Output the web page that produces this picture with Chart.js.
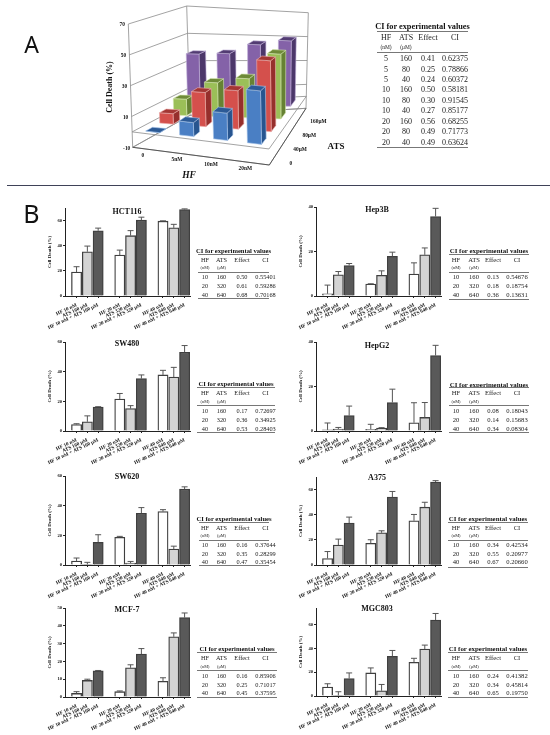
<!DOCTYPE html>
<html>
<head>
<meta charset="utf-8">
<script src="https://cdn.jsdelivr.net/npm/chart.js@4"></script>
<style>
    html, body { margin: 0; background: #fff; }
    #page { position: relative; width: 550px; height: 735px; overflow: hidden; will-change: transform; }
    canvas { position: absolute; }
    .txt { position: absolute; white-space: nowrap; font-family: "Liberation Serif", serif; color: #222; transform: translate(-50%, -50%); }
    .rule { position: absolute; height: 1px; background: #777; }
</style>
</head>
<body>
<div id="page"></div>
<script>
// panel A: cell death by HF (columns) and ATS (rows)
const hfLevels3d = ['0', '5nM', '10nM', '20nM'];
const atsLevels3d = ['0', '40μM', '80μM', '160μM'];
const ats0Values = [0, 9, 17.5, 34];
const ats40Values = [7, 23, 26, 48];
const ats80Values = [11.5, 24, 28, 47];
const ats160Values = [38.5, 39.5, 47, 51];
const zTicks3d = [-10, 10, 30, 50, 70];

const ciA_hf = ['5', '5', '5', '10', '10', '10', '20', '20', '20'];
const ciA_ats = ['160', '80', '40', '160', '80', '40', '160', '80', '40'];
const ciA_effect = ['0.41', '0.25', '0.24', '0.50', '0.30', '0.27', '0.56', '0.49', '0.49'];
const ciA_ci = ['0.62375', '0.78866', '0.60372', '0.58181', '0.91545', '0.85177', '0.68255', '0.71773', '0.63624'];

// panel B: nine bars per cell line
const barLabels = [
    'HF 10 nM', 'ATS 160 μM', 'HF 10 nM + ATS 160 μM',
    'HF 20 nM', 'ATS 320 μM', 'HF 20 nM + ATS 320 μM',
    'HF 40 nM', 'ATS 640 μM', 'HF 40 nM + ATS 640 μM'
];
const ciB_hf = ['10', '20', '40'];
const ciB_ats = ['160', '320', '640'];

const hct116Mean = [19, 35.2, 51.9, 32.5, 48, 60.3, 59.5, 54.2, 68.8];
const hct116Err = [23.3, 39.7, 54, 36.5, 52, 62.7, 59.8, 57, 69.3];
const hct116Effect = ['0.50', '0.61', '0.68'];
const hct116CI = ['0.55401', '0.59286', '0.70168'];

const hep3bMean = [1, 9.5, 13.7, 5.4, 9.3, 17.8, 9.9, 18.5, 35.7];
const hep3bErr = [4.9, 11, 14.6, 5.5, 11.3, 19.7, 14.9, 21.6, 39.4];
const hep3bEffect = ['0.13', '0.18', '0.36'];
const hep3bCI = ['0.54676', '0.18754', '0.13631'];

const sw480Mean = [4.4, 6.2, 16.2, 21.6, 15.1, 35.3, 37.8, 36.4, 53.1];
const sw480Err = [4.9, 10.2, 16.4, 25.3, 17.1, 37.8, 40.9, 42.9, 57.6];
const sw480Effect = ['0.17', '0.36', '0.53'];
const sw480CI = ['0.72697', '0.34925', '0.28403'];

const hepg2Mean = [0.5, 0.9, 6.9, 0.8, 1.3, 12.8, 3.7, 6.1, 33.9];
const hepg2Err = [3.6, 1.6, 11.2, 3, 1.5, 18.8, 12.7, 12.8, 38.5];
const hepg2Effect = ['0.08', '0.14', '0.34'];
const hepg2CI = ['0.18043', '0.15683', '0.08304'];

const sw620Mean = [2.7, 0.4, 15.3, 18.7, 1.3, 34.9, 36, 10.7, 51.1];
const sw620Err = [4.7, 1.8, 20.4, 19.3, 2.4, 38.7, 37.3, 12.7, 52.7];
const sw620Effect = ['0.16', '0.35', '0.47'];
const sw620CI = ['0.37644', '0.28299', '0.35454'];

const a375Mean = [5.2, 15.9, 33.4, 17.2, 25.6, 54, 35.2, 46, 66];
const a375Err = [10.7, 20.6, 38.1, 20.1, 27.2, 58.5, 40.2, 49.9, 67.1];
const a375Effect = ['0.34', '0.55', '0.67'];
const a375CI = ['0.42534', '0.20977', '0.20660'];

const mcf7Mean = [2, 9.3, 14.7, 3, 16.4, 24.1, 8.8, 33.8, 44.6];
const mcf7Err = [3, 10, 14.9, 3.4, 18.1, 27.2, 10.8, 36, 47.2];
const mcf7Effect = ['0.16', '0.25', '0.45'];
const mcf7CI = ['0.85906', '0.71017', '0.37595'];

const mgc803Mean = [7.5, 0.5, 14.7, 19.4, 4.4, 33.3, 28.3, 39.4, 63.9];
const mgc803Err = [10.3, 3.6, 19.4, 23.6, 9.7, 38.3, 31.7, 42.8, 69.4];
const mgc803Effect = ['0.24', '0.34', '0.65'];
const mgc803CI = ['0.41382', '0.45814', '0.19750'];

const page = document.getElementById('page');
const barSlots = [0, 1, 2, 4, 5, 6, 8, 9, 10];
const barFills = ['#ffffff', '#d4d4d4', '#595959'];

Chart.defaults.font.family = '"Liberation Serif", serif';
Chart.defaults.animation = false;

function addText(text, x, y, css) {
    const el = document.createElement('div');
    el.className = 'txt';
    el.textContent = text;
    el.style.left = x + 'px';
    el.style.top = y + 'px';
    Object.assign(el.style, css);
    page.appendChild(el);
}

function addRule(x, y, w, h) {
    const el = document.createElement('div');
    el.className = 'rule';
    el.style.left = x + 'px';
    el.style.top = y + 'px';
    el.style.width = w + 'px';
    if (h) el.style.height = h + 'px';
    page.appendChild(el);
}

function addCanvas(left, top, w, h) {
    const c = document.createElement('canvas');
    c.width = w;
    c.height = h;
    c.style.left = left + 'px';
    c.style.top = top + 'px';
    page.appendChild(c);
    return c.getContext('2d');
}

// whiskers go up only, like the original figure
const errorBars = {
    id: 'errorBars',
    afterDatasetsDraw(chart, args, opts) {
        const { ctx, scales } = chart;
        const bars = chart.getDatasetMeta(0).data;
        ctx.save();
        ctx.strokeStyle = '#555';
        ctx.lineWidth = 1;
        bars.forEach((bar, i) => {
            const y0 = scales.y.getPixelForValue(opts.tops[i]);
            ctx.beginPath();
            ctx.moveTo(bar.x, bar.y);
            ctx.lineTo(bar.x, y0);
            ctx.moveTo(bar.x - 3, y0);
            ctx.lineTo(bar.x + 3, y0);
            ctx.stroke();
        });
        ctx.restore();
    }
};

function barPanel(p) {
    const h = p.bottom - p.top;
    const ctx = addCanvas(p.axisX - 26, p.top - 6, 157, h + 46);
    new Chart(ctx, {
        type: 'bar',
        data: {
            datasets: [{
                data: p.mean.map((v, i) => ({ x: barSlots[i], y: v })),
                backgroundColor: p.mean.map((v, i) => barFills[i % 3]),
                borderColor: '#3f3f3f',
                borderWidth: 1.3,
                barThickness: 10.2
            }]
        },
        options: {
            responsive: false,
            devicePixelRatio: 1,
            layout: { padding: { left: 8, top: 6, right: 6, bottom: 0 } },
            plugins: { legend: { display: false }, tooltip: { enabled: false }, errorBars: { tops: p.err } },
            scales: {
                x: {
                    type: 'linear',
                    offset: false,
                    min: -1.07,
                    max: 10.5,
                    afterBuildTicks: ax => { ax.ticks = barSlots.map(v => ({ value: v })); },
                    afterFit: ax => { ax.height = 40; },
                    grid: { offset: false, drawOnChartArea: false, tickLength: 2, color: '#222' },
                    border: { color: '#222', width: 1 },
                    ticks: {
                        autoSkip: false,
                        minRotation: 25,
                        maxRotation: 25,
                        padding: 4,
                        color: '#111',
                        font: { size: 5.1, weight: 'bold' },
                        callback: v => barLabels[barSlots.indexOf(v)]
                    }
                },
                y: {
                    min: 0,
                    max: p.yMax,
                    afterBuildTicks: ax => { ax.ticks = p.yTicks.map(v => ({ value: v })); },
                    afterFit: ax => { ax.width = 18; },
                    grid: { drawOnChartArea: false, tickLength: 2, color: '#222' },
                    border: { color: '#222', width: 1 },
                    ticks: { padding: 1, color: '#111', font: { size: 4.6, weight: 'bold' } },
                    title: { display: true, text: 'Cell Death (%)', color: '#111', padding: 0, font: { size: 5, weight: 'bold' } }
                }
            }
        },
        plugins: [errorBars]
    });
    addText(p.name, p.titleX, p.titleY, { fontSize: '8px', fontWeight: 'bold', color: '#111' });
}

function ciTable(t) {
    addText('CI for experimental values', (t.x + t.x2) / 2, t.titleY, { fontSize: t.size + 0.3 + 'px', fontWeight: 'bold', color: '#111' });
    addRule(t.x, t.line1, t.x2 - t.x);
    ['HF', 'ATS', 'Effect', 'CI'].forEach((s, i) => addText(s, t.cols[i], t.headY, { fontSize: t.size + 'px' }));
    addText('(nM)', t.cols[0], t.unitY, { fontSize: t.size * 0.68 + 'px' });
    addText('(μM)', t.cols[1], t.unitY, { fontSize: t.size * 0.68 + 'px' });
    addRule(t.x, t.line2, t.x2 - t.x);
    t.hf.forEach((v, i) => {
        const y = t.rowY[i];
        addText(v, t.cols[0], y, { fontSize: t.size + 'px' });
        addText(t.ats[i], t.cols[1], y, { fontSize: t.size + 'px' });
        addText(t.effect[i], t.cols[2], y, { fontSize: t.size + 'px' });
        addText(t.ci[i], t.cols[3], y, { fontSize: t.size + 'px' });
    });
    addRule(t.x, t.line3, t.x2 - t.x);
}

// panel A projection, frame corners
const floorC = [[132.7, 147.3], [269.3, 165], [306, 108.3], [190, 115.3]];
const ceilC = [[128.3, 24], [266.7, 36.7], [308.3, 12.7], [186.7, 6]];

function project(u, v, z) {
    const t = (z + 10) / 80;
    const mix = (c, k) => (c[0][k] * (1 - u) + c[1][k] * u) * (1 - v) + (c[3][k] * (1 - u) + c[2][k] * u) * v;
    return [
        mix(floorC, 0) * (1 - t) + mix(ceilC, 0) * t,
        mix(floorC, 1) * (1 - t) + mix(ceilC, 1) * t
    ];
}

const rows3d = [
    { values: ats0Values, front: '#4a7fc4', top: '#2c5a96', side: '#28558f', edge: '#a6c4ea' },
    { values: ats40Values, front: '#d4504c', top: '#a33734', side: '#962f2c', edge: '#eeb0ae' },
    { values: ats80Values, front: '#9bbf58', top: '#6e8a38', side: '#668233', edge: '#d3e5ae' },
    { values: ats160Values, front: '#8462a8', top: '#523c72', side: '#4c376a', edge: '#c0aed6' }
];

const bars3d = {
    id: 'bars3d',
    afterDatasetsDraw(chart) {
        const { ctx, scales } = chart;
        const pt = (u, v, z) => {
            const p = project(u, v, z);
            return [scales.x.getPixelForValue(p[0]), scales.y.getPixelForValue(p[1])];
        };
        const path = pts => {
            ctx.beginPath();
            pts.forEach((p, i) => (i ? ctx.lineTo(p[0], p[1]) : ctx.moveTo(p[0], p[1])));
        };

        ctx.save();
        ctx.strokeStyle = '#8c8c8c';
        ctx.lineWidth = 0.8;
        zTicks3d.forEach(z => {
            path([pt(0, 0, z), pt(0, 1, z), pt(1, 1, z)]);
            ctx.stroke();
        });
        [[0, 0], [0, 1], [1, 1]].forEach(c => {
            path([pt(c[0], c[1], -10), pt(c[0], c[1], 70)]);
            ctx.stroke();
        });
        [-10, 0].forEach(z => {
            path([pt(0, 0, z), pt(1, 0, z), pt(1, 1, z), pt(0, 1, z)]);
            ctx.closePath();
            ctx.stroke();
        });
        ctx.strokeStyle = '#444';
        path([pt(0, 0, -10), pt(1, 0, -10), pt(1, 1, -10)]);
        ctx.stroke();

        const du = 0.052, dv = 0.06;
        for (let j = 3; j >= 0; j--) {
            const row = rows3d[j];
            row.values.forEach((val, i) => {
                const u0 = (i + 0.5) / 4 - du, u1 = (i + 0.5) / 4 + du;
                const v0 = (j + 0.5) / 4 - dv, v1 = (j + 0.5) / 4 + dv;
                ctx.lineWidth = 0.6;
                const face = (pts, fill) => {
                    path(pts);
                    ctx.closePath();
                    ctx.fillStyle = fill;
                    ctx.fill();
                    ctx.strokeStyle = row.edge;
                    ctx.stroke();
                };
                face([pt(u1, v0, 0), pt(u1, v1, 0), pt(u1, v1, val), pt(u1, v0, val)], row.side);
                face([pt(u0, v0, 0), pt(u1, v0, 0), pt(u1, v0, val), pt(u0, v0, val)], row.front);
                face([pt(u0, v0, val), pt(u1, v0, val), pt(u1, v1, val), pt(u0, v1, val)], row.top);
            });
        }

        ctx.fillStyle = '#111';
        ctx.textAlign = 'center';
        ctx.textBaseline = 'middle';
        ctx.font = 'bold 5.4px "Liberation Serif"';
        zTicks3d.forEach(z => {
            const p = pt(0, 0, z);
            ctx.fillText(String(z), p[0] - 6, p[1] + 1);
        });
        hfLevels3d.forEach((s, i) => {
            const p = pt((i + 0.5) / 4, 0, -10);
            ctx.fillText(s, p[0] - 7, p[1] + 6);
        });
        atsLevels3d.forEach((s, j) => {
            const p = pt(1, (j + 0.5) / 4, -10);
            ctx.fillText(s, p[0] + 17, p[1] + 6);
        });
        ctx.font = 'bold 9px "Liberation Serif"';
        ctx.fillText('ATS', 336, 147);
        ctx.font = 'italic bold 9.5px "Liberation Serif"';
        ctx.fillText('HF', 189, 175.5);
        ctx.translate(109.5, 87);
        ctx.rotate(-Math.PI / 2);
        ctx.font = 'bold 8px "Liberation Serif"';
        ctx.fillText('Cell Death (%)', 0, 0);
        ctx.restore();
    }
};

new Chart(addCanvas(0, 0, 360, 184), {
    type: 'scatter',
    data: { datasets: [{ data: [], pointRadius: 0 }] },
    options: {
        responsive: false,
        devicePixelRatio: 1,
        plugins: { legend: { display: false }, tooltip: { enabled: false } },
        scales: {
            x: { display: false, min: 0, max: 360 },
            y: { display: false, min: 0, max: 184, reverse: true }
        }
    },
    plugins: [bars3d]
});

ciTable({
    x: 377, x2: 468, size: 8, cols: [386, 406, 428, 455],
    titleY: 26, line1: 31, headY: 37, unitY: 47, line2: 52, line3: 147,
    rowY: [58, 68.5, 79, 89.3, 99.7, 110, 120.7, 131, 141.7],
    hf: ciA_hf, ats: ciA_ats, effect: ciA_effect, ci: ciA_ci
});

addRule(7, 184.5, 543, 1.5);
page.lastChild.style.background = '#3f4258';
addText('A', 31.5, 43.5, { fontFamily: '"Noto Sans", sans-serif', fontSize: '23px', color: '#111' });
addText('B', 31.5, 213, { fontFamily: '"Noto Sans", sans-serif', fontSize: '25px', color: '#111' });

const L = 65, R = 315.7;
barPanel({ name: 'HCT116', axisX: L, top: 208.3, bottom: 296.7, yMax: 70, yTicks: [0, 20, 40, 60], mean: hct116Mean, err: hct116Err, titleX: 127, titleY: 210.7 });
barPanel({ name: 'Hep3B', axisX: R, top: 207.3, bottom: 296.7, yMax: 40, yTicks: [0, 20, 40], mean: hep3bMean, err: hep3bErr, titleX: 377, titleY: 209 });
barPanel({ name: 'SW480', axisX: L, top: 342.3, bottom: 432, yMax: 60, yTicks: [0, 20, 40, 60], mean: sw480Mean, err: sw480Err, titleX: 127, titleY: 342.7 });
barPanel({ name: 'HepG2', axisX: R, top: 341.7, bottom: 431.3, yMax: 40, yTicks: [0, 20, 40], mean: hepg2Mean, err: hepg2Err, titleX: 377, titleY: 344.7 });
barPanel({ name: 'SW620', axisX: L, top: 476, bottom: 565.7, yMax: 60, yTicks: [0, 20, 40, 60], mean: sw620Mean, err: sw620Err, titleX: 127, titleY: 475.7 });
barPanel({ name: 'A375', axisX: R, top: 476.7, bottom: 565.3, yMax: 70, yTicks: [0, 20, 40, 60], mean: a375Mean, err: a375Err, titleX: 377, titleY: 476.7 });
barPanel({ name: 'MCF-7', axisX: L, top: 607.7, bottom: 697, yMax: 50, yTicks: [0, 10, 20, 30, 40, 50], mean: mcf7Mean, err: mcf7Err, titleX: 127, titleY: 608.7 });
barPanel({ name: 'MGC803', axisX: R, top: 608.3, bottom: 697, yMax: 74, yTicks: [0, 20, 40, 60], mean: mgc803Mean, err: mgc803Err, titleX: 377, titleY: 608.3 });

const leftCols = [205, 221.5, 242, 265.5];
const rightCols = [456, 474, 493, 517];
ciTable({ x: 198, x2: 269, size: 6.3, cols: leftCols, titleY: 250, line1: 254, headY: 259, unitY: 267, line2: 271.5, line3: 298, rowY: [276, 285, 294], hf: ciB_hf, ats: ciB_ats, effect: hct116Effect, ci: hct116CI });
ciTable({ x: 449, x2: 529, size: 6.6, cols: rightCols, titleY: 250, line1: 254, headY: 259, unitY: 267, line2: 271.5, line3: 298.5, rowY: [276, 285, 294], hf: ciB_hf, ats: ciB_ats, effect: hep3bEffect, ci: hep3bCI });
ciTable({ x: 197, x2: 275, size: 6.3, cols: leftCols, titleY: 383, line1: 387, headY: 392, unitY: 401, line2: 405, line3: 432, rowY: [410, 418.5, 428], hf: ciB_hf, ats: ciB_ats, effect: sw480Effect, ci: sw480CI });
ciTable({ x: 449, x2: 529, size: 6.6, cols: rightCols, titleY: 383.5, line1: 387, headY: 392, unitY: 401, line2: 405, line3: 432, rowY: [410, 419, 428], hf: ciB_hf, ats: ciB_ats, effect: hepg2Effect, ci: hepg2CI });
ciTable({ x: 199, x2: 269, size: 6.3, cols: leftCols, titleY: 518, line1: 522, headY: 527, unitY: 535, line2: 540, line3: 565, rowY: [544, 552.5, 561], hf: ciB_hf, ats: ciB_ats, effect: sw620Effect, ci: sw620CI });
ciTable({ x: 448, x2: 528, size: 6.6, cols: rightCols, titleY: 518, line1: 522, headY: 527, unitY: 535, line2: 540, line3: 566.5, rowY: [544, 553, 561], hf: ciB_hf, ats: ciB_ats, effect: a375Effect, ci: a375CI });
ciTable({ x: 197, x2: 277, size: 6.3, cols: leftCols, titleY: 648, line1: 652, headY: 657, unitY: 666, line2: 670, line3: 697, rowY: [675, 683.5, 692], hf: ciB_hf, ats: ciB_ats, effect: mcf7Effect, ci: mcf7CI });
ciTable({ x: 448, x2: 528, size: 6.6, cols: rightCols, titleY: 648, line1: 652, headY: 657, unitY: 666, line2: 670, line3: 697, rowY: [675, 683.5, 692], hf: ciB_hf, ats: ciB_ats, effect: mgc803Effect, ci: mgc803CI });
</script>
</body>
</html>
